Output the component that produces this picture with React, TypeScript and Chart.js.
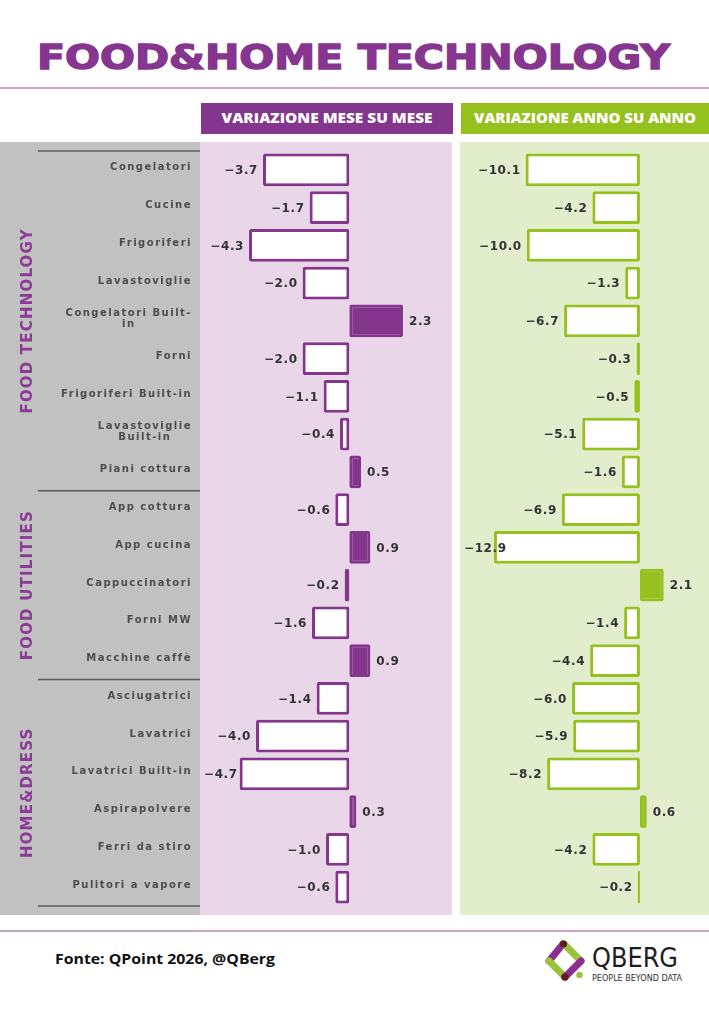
import React, { useEffect, useRef } from "react";
import { Chart, registerables } from "chart.js";

Chart.register(...registerables);

// ---- data ----
const title = "FOOD&HOME TECHNOLOGY";
const momTitle = "VARIAZIONE MESE SU MESE";
const yoyTitle = "VARIAZIONE ANNO SU ANNO";
const sourceNote = "Fonte: QPoint 2026, @QBerg";

const categories = [
  "Congelatori",
  "Cucine",
  "Frigoriferi",
  "Lavastoviglie",
  "Congelatori Built-in",
  "Forni",
  "Frigoriferi Built-in",
  "Lavastoviglie Built-in",
  "Piani cottura",
  "App cottura",
  "App cucina",
  "Cappuccinatori",
  "Forni MW",
  "Macchine caffè",
  "Asciugatrici",
  "Lavatrici",
  "Lavatrici Built-in",
  "Aspirapolvere",
  "Ferri da stiro",
  "Pulitori a vapore",
];

// month-on-month change (%)
const momValues = [
  -3.7, -1.7, -4.3, -2.0, 2.3, -2.0, -1.1, -0.4, 0.5, -0.6, 0.9, -0.2, -1.6, 0.9,
  -1.4, -4.0, -4.7, 0.3, -1.0, -0.6,
];

// year-on-year change (%)
const yoyValues = [
  -10.1, -4.2, -10.0, -1.3, -6.7, -0.3, -0.5, -5.1, -1.6, -6.9, -12.9, 2.1, -1.4,
  -4.4, -6.0, -5.9, -8.2, 0.6, -4.2, -0.2,
];

const groupNames = ["FOOD TECHNOLOGY", "FOOD UTILITIES", "HOME&DRESS"];
const groupFirstRow = [0, 9, 14];
const groupLastRow = [8, 13, 19];

// labels that wrap onto two lines in the category column
const wrappedLabels: Record<string, string[]> = {
  "Congelatori Built-in": ["Congelatori Built-", "in"],
  "Lavastoviglie Built-in": ["Lavastoviglie", "Built-in"],
};

// ---- styling ----
const PURPLE = "#84358c";
const GREEN = "#95c11f";
const TEXT_DARK = "#333333";
const LABEL_GREY = "#4d4d4d";

const fmt = (v: number) => (v < 0 ? "\u2212" : "") + Math.abs(v).toFixed(1);

const valueLabels = {
  id: "valueLabels",
  afterDatasetsDraw(chart: any) {
    const ctx = chart.ctx as CanvasRenderingContext2D;
    const meta = chart.getDatasetMeta(0);
    const area = chart.chartArea;
    const values = chart.data.datasets[0].data as number[];
    ctx.save();
    ctx.font = 'bold 12px "DejaVu Sans"';
    (ctx as any).letterSpacing = "0.6px";
    ctx.fillStyle = TEXT_DARK;
    ctx.textBaseline = "middle";
    ctx.textAlign = "left";
    meta.data.forEach((bar: any, i: number) => {
      const v = values[i];
      const text = fmt(v);
      const w = ctx.measureText(text).width;
      const lo = Math.min(bar.x, bar.base);
      const hi = Math.max(bar.x, bar.base);
      const x = v < 0 ? Math.max(lo - 5 - w, area.left + 4) : hi + 6;
      ctx.fillText(text, x, bar.y + 1);
    });
    ctx.restore();
  },
};

const rowDecor = {
  id: "rowDecor",
  afterDraw(chart: any) {
    const ctx = chart.ctx as CanvasRenderingContext2D;
    const y = chart.scales.y;
    const area = chart.chartArea;
    const half = (y.getPixelForValue(1) - y.getPixelForValue(0)) / 2;
    ctx.save();

    // category names
    ctx.font = 'bold 10px "DejaVu Sans"';
    (ctx as any).letterSpacing = "1.5px";
    ctx.fillStyle = LABEL_GREY;
    ctx.textAlign = "center";
    ctx.textBaseline = "middle";
    const right = area.left - 8;
    categories.forEach((c, i) => {
      const lines = wrappedLabels[c] ?? [c];
      const bw = Math.max(...lines.map((l) => ctx.measureText(l).width));
      const cx = right - bw / 2;
      const yc = y.getPixelForValue(i) - 2;
      const lh = 11.5;
      lines.forEach((l, j) =>
        ctx.fillText(l, cx, yc + (j - (lines.length - 1) / 2) * lh)
      );
    });

    // group separators
    ctx.strokeStyle = "#5a5a5a";
    ctx.lineWidth = 1.5;
    const bounds = [
      ...groupFirstRow.map((r) => y.getPixelForValue(r) - half),
      y.getPixelForValue(groupLastRow[groupLastRow.length - 1]) + half,
    ];
    bounds.forEach((py) => {
      ctx.beginPath();
      ctx.moveTo(38, py);
      ctx.lineTo(area.left, py);
      ctx.stroke();
    });

    // vertical group names
    ctx.font = 'bold 15px "DejaVu Sans"';
    (ctx as any).letterSpacing = "1.2px";
    ctx.fillStyle = "#8b3a96";
    groupNames.forEach((g, k) => {
      const top = y.getPixelForValue(groupFirstRow[k]) - half;
      const bottom = y.getPixelForValue(groupLastRow[k]) + half;
      ctx.save();
      ctx.translate(28, (top + bottom) / 2);
      ctx.rotate(-Math.PI / 2);
      ctx.textAlign = "center";
      ctx.textBaseline = "middle";
      ctx.fillText(g, 0, 0);
      ctx.restore();
    });

    ctx.restore();
  },
};

function makeConfig(
  values: number[],
  color: string,
  xMin: number,
  xMax: number,
  padLeft: number,
  extraPlugins: any[]
): any {
  return {
    type: "bar",
    data: {
      labels: categories,
      datasets: [
        {
          data: values,
          backgroundColor: values.map((v) => (v < 0 ? "#ffffff" : color)),
          borderColor: color,
          borderWidth: 3,
          borderSkipped: false,
          borderRadius: 2,
          barPercentage: 0.874,
          categoryPercentage: 1,
        },
      ],
    },
    options: {
      indexAxis: "y",
      responsive: false,
      maintainAspectRatio: false,
      animation: false,
      events: [],
      layout: { padding: { left: padLeft, right: 0, top: 9, bottom: 9 } },
      scales: {
        x: { display: false, min: xMin, max: xMax },
        y: { display: false },
      },
      plugins: {
        legend: { display: false },
        tooltip: { enabled: false },
      },
    },
    plugins: [valueLabels, ...extraPlugins],
  };
}

export default function App() {
  const leftRef = useRef<HTMLCanvasElement>(null);
  const rightRef = useRef<HTMLCanvasElement>(null);

  useEffect(() => {
    const left = new Chart(
      leftRef.current!,
      makeConfig(momValues, PURPLE, -6.4, 4.4, 200, [rowDecor])
    );
    const right = new Chart(
      rightRef.current!,
      makeConfig(yoyValues, GREEN, -15.9, 6.1, 0, [])
    );
    return () => {
      left.destroy();
      right.destroy();
    };
  }, []);

  return (
    <div
      style={{
        position: "absolute",
        left: 0,
        top: 0,
        width: 709,
        height: 1024,
        background: "#ffffff",
        overflow: "hidden",
      }}
    >
      <svg
        width={709}
        height={1024}
        style={{ position: "absolute", left: 0, top: 0 }}
      >
        <text
          x={37}
          y={69}
          fontFamily="DejaVu Sans"
          fontWeight="bold"
          fontSize={34}
          fill="#86368f"
          stroke="#86368f"
          strokeWidth={1.4}
          textLength={633}
          lengthAdjust="spacingAndGlyphs"
        >
          {title}
        </text>
        <rect x={0} y={87} width={709} height={2} fill="#c9a2d0" />

        <rect x={201} y={103} width={252} height={31} fill={PURPLE} />
        <text
          x={327}
          y={123}
          textAnchor="middle"
          fontFamily="Open Sans"
          fontWeight={800}
          fontSize={14}
          fill="#ffffff"
          textLength={211}
          lengthAdjust="spacingAndGlyphs"
        >
          {momTitle}
        </text>
        <rect x={461} y={103} width={248} height={31} fill={GREEN} />
        <text
          x={585}
          y={123}
          textAnchor="middle"
          fontFamily="Open Sans"
          fontWeight={800}
          fontSize={14}
          fill="#ffffff"
          textLength={222}
          lengthAdjust="spacingAndGlyphs"
        >
          {yoyTitle}
        </text>

        <rect x={0} y={142} width={200} height={773} fill="#c1c1c1" />
        <rect x={200} y={142} width={252} height={773} fill="#e9d7e9" />
        <rect x={460} y={142} width={249} height={773} fill="#e2edcb" />

        <rect x={0} y={930} width={709} height={2} fill="#c9a2d0" />
        <text
          x={55}
          y={964}
          fontFamily="Open Sans"
          fontWeight="bold"
          fontSize={14}
          fill="#111111"
          textLength={220}
          lengthAdjust="spacingAndGlyphs"
        >
          {sourceNote}
        </text>

        {/* brand mark */}
        <g strokeLinecap="round" strokeWidth={7} fill="none">
          <line x1={563} y1={944} x2={549} y2={961} stroke="#8e2c8f" />
          <line x1={549} y1={961} x2={565} y2={977} stroke="#9bc33b" />
          <line x1={564} y1={944} x2={581} y2={961} stroke="#9bc33b" />
          <line x1={581} y1={961} x2={565} y2={977} stroke="#8e2c8f" />
        </g>
        <circle cx={563.5} cy={944} r={3.6} fill="#5a1a1e" />
        <circle cx={565} cy={977} r={3.6} fill="#5a1a1e" />
        <circle cx={579.5} cy={975} r={3.2} fill="#9bc33b" />
        <text
          x={592}
          y={967}
          fontFamily="DejaVu Sans Condensed, DejaVu Sans"
          fontSize={26}
          fill="#1e1e1e"
          textLength={86}
          lengthAdjust="spacingAndGlyphs"
        >
          QBERG
        </text>
        <text
          x={592}
          y={981}
          fontFamily="DejaVu Sans Condensed, DejaVu Sans"
          fontSize={8}
          fill="#333333"
          textLength={90}
          lengthAdjust="spacingAndGlyphs"
        >
          PEOPLE BEYOND DATA
        </text>
      </svg>

      <canvas
        ref={leftRef}
        width={452}
        height={773}
        style={{ position: "absolute", left: 0, top: 142, width: 452, height: 773 }}
      />
      <canvas
        ref={rightRef}
        width={249}
        height={773}
        style={{ position: "absolute", left: 460, top: 142, width: 249, height: 773 }}
      />
    </div>
  );
}
